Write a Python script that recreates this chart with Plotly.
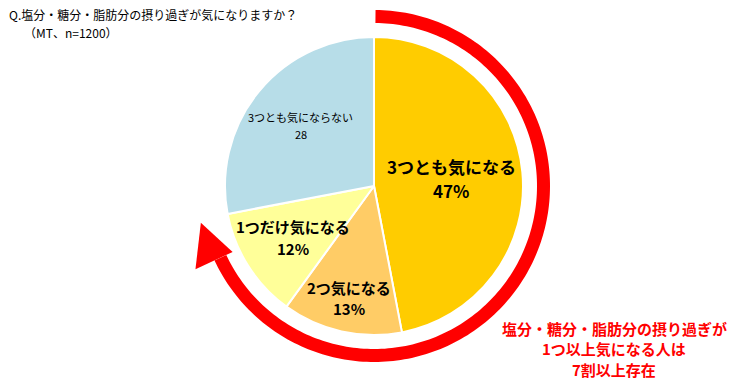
import numpy as np
import plotly.graph_objects as go

# ---- data ----
categories = ["3つとも気になる", "2つ気になる", "1つだけ気になる", "3つとも気にならない"]
values = [47, 13, 12, 28]
value_suffix = ["%", "%", "%", ""]
title_lines = ["Q.塩分・糖分・脂肪分の摂り過ぎが気になりますか？", "（MT、n=1200）"]
callout_lines = ["塩分・糖分・脂肪分の摂り過ぎが", "1つ以上気になる人は", "7割以上存在"]

# ---- styling ----
W, H = 738, 385
colors = ["#FFCC00", "#FFCC66", "#FFFF99", "#B7DDE8"]
label_sizes = [17, 15, 15, 11]
label_gap = [24, 21, 22, 17]
label_bold = [True, True, True, False]
label_rfrac = [0.52, 0.77, 0.64, 0.64]
CX, CY, R = 374, 186, 149  # pie centre / radius in pixels
JP = "Noto Sans CJK JP"

def px2paper(x, y):
    return x / W, 1 - y / H

fig = go.Figure()
fig.add_trace(go.Pie(
    labels=categories, values=values, sort=False, direction="clockwise", rotation=0,
    marker=dict(colors=colors, line=dict(color="white", width=2)),
    textinfo="none", hoverinfo="label+value", showlegend=False,
    domain=dict(x=[(CX - R) / W, (CX + R) / W], y=[1 - (CY + R) / H, 1 - (CY - R) / H]),
))

def txt(x, y, s, size, color="black", bold=False, anchor="center"):
    px, py = px2paper(x, y)
    return dict(x=px, y=py, xref="paper", yref="paper", text=f"<b>{s}</b>" if bold else s,
                showarrow=False, font=dict(family=JP, size=size, color=color),
                xanchor=anchor, yanchor="middle", align="center")

# slice labels positioned from the data angles
total = sum(values)
cum = np.cumsum([0] + values)
annotations = []
for i, (cat, v) in enumerate(zip(categories, values)):
    mid = np.deg2rad((cum[i] + v / 2) / total * 360)
    rr = R * label_rfrac[i]
    x = CX + rr * np.sin(mid)
    y = CY - rr * np.cos(mid)
    g = label_gap[i] / 2
    annotations.append(txt(x, y - g, cat, label_sizes[i], bold=label_bold[i]))
    annotations.append(txt(x, y + g, f"{v}{value_suffix[i]}", label_sizes[i], bold=label_bold[i]))

# title
annotations.append(txt(7, 14, title_lines[0], 12, anchor="left"))
annotations.append(txt(22, 32, title_lines[1], 12, anchor="left"))
# red callout
for s, yy in zip(callout_lines, [328, 348.5, 369]):
    annotations.append(txt(614, yy, s, 15, color="#FF0000", bold=True))

# red circular arrow (decoration)
r_in, r_out = 163, 176
t_end = 245
th = np.deg2rad(np.linspace(0.5, t_end, 200))
outer = [(CX + r_out * np.sin(t), CY - r_out * np.cos(t)) for t in th]
inner = [(CX + r_in * np.sin(t), CY - r_in * np.cos(t)) for t in th[::-1]]
pts = outer + inner
path = "M " + " L ".join(f"{px2paper(x, y)[0]:.5f},{px2paper(x, y)[1]:.5f}" for x, y in pts) + " Z"
tb = np.deg2rad(t_end)
tt = np.deg2rad(258)
head = [(CX + 197 * np.sin(tb), CY - 197 * np.cos(tb)),
        (CX + 177 * np.sin(tt), CY - 177 * np.cos(tt)),
        (CX + 156 * np.sin(tb), CY - 156 * np.cos(tb))]
hpath = "M " + " L ".join(f"{px2paper(x, y)[0]:.5f},{px2paper(x, y)[1]:.5f}" for x, y in head) + " Z"
shapes = [dict(type="path", path=path, xref="paper", yref="paper", fillcolor="#FF0000", line=dict(width=0)),
          dict(type="path", path=hpath, xref="paper", yref="paper", fillcolor="#FF0000", line=dict(width=0))]

fig.update_layout(width=W, height=H, margin=dict(l=0, r=0, t=0, b=0),
                  paper_bgcolor="white", plot_bgcolor="white",
                  annotations=annotations, shapes=shapes)
fig.write_html("out.html")
